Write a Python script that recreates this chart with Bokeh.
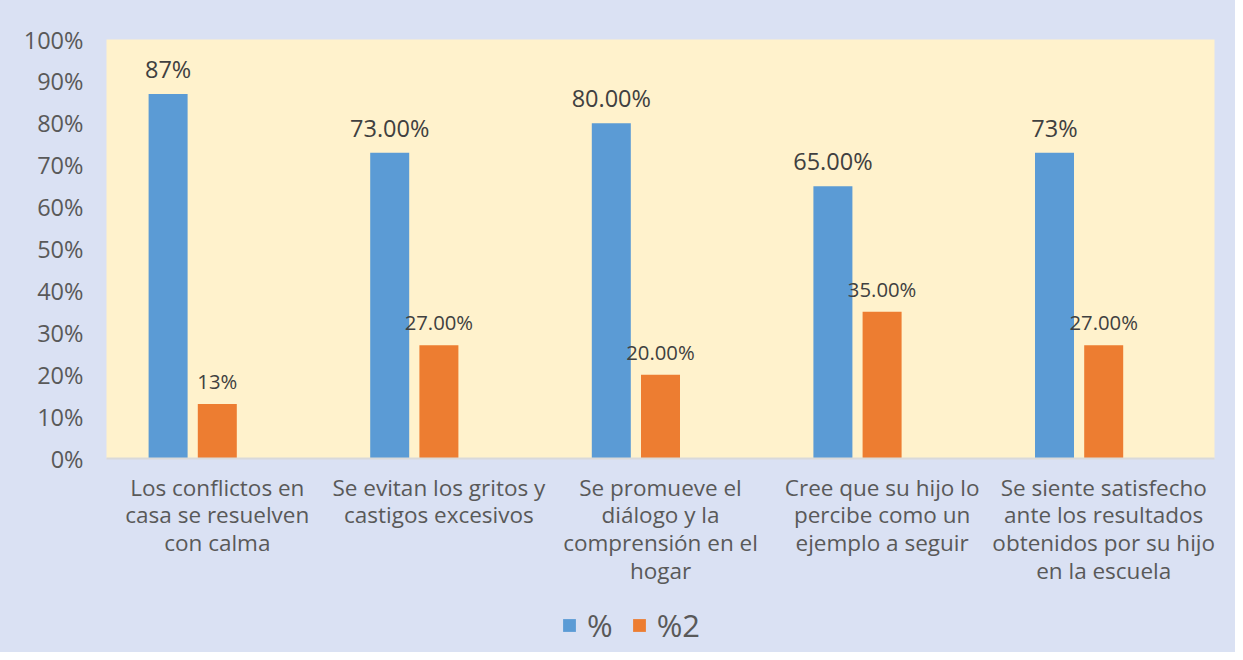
from bokeh.plotting import figure
from bokeh.layouts import column
from bokeh.models import (ColumnDataSource, FactorRange, Range1d, NumeralTickFormatter,
                          FixedTicker, LabelSet, Legend, LegendItem)
from bokeh.transform import dodge
from bokeh.core.properties import value
from bokeh.embed import file_html
from bokeh.resources import INLINE

categories = [
    "Los conflictos en\ncasa se resuelven\ncon calma",
    "Se evitan los gritos y\ncastigos excesivos",
    "Se promueve el\ndiálogo y la\ncomprensión en el\nhogar",
    "Cree que su hijo lo\npercibe como un\nejemplo a seguir",
    "Se siente satisfecho\nante los resultados\nobtenidos por su hijo\nen la escuela",
]
serie_1 = [0.87, 0.73, 0.80, 0.65, 0.73]
serie_2 = [0.13, 0.27, 0.20, 0.35, 0.27]
labels_1 = ["87%", "73.00%", "80.00%", "65.00%", "73%"]
labels_2 = ["13%", "27.00%", "20.00%", "35.00%", "27.00%"]
series_names = ["%", "%2"]
y_ticks = [0.0, 0.1, 0.2, 0.3, 0.4, 0.5, 0.6, 0.7, 0.8, 0.9, 1.0]

FONT = "Open Sans"
BLUE = "#5B9BD5"
ORANGE = "#ED7D31"
BG = "#DAE1F3"

src = ColumnDataSource(dict(cat=categories, s1=serie_1, s2=serie_2, l1=labels_1, l2=labels_2))

p = figure(x_range=FactorRange(*categories), y_range=Range1d(0, 1),
           width=1235, height=600, output_backend="svg", toolbar_location=None,
           min_border_left=106, min_border_right=21, min_border_top=39, min_border_bottom=142)
p.background_fill_color = "#FFF2CC"
p.border_fill_color = BG
p.outline_line_color = None
p.xgrid.grid_line_color = None
p.ygrid.grid_line_color = None

W = 0.176
r1 = p.vbar(x=dodge("cat", -0.222, range=p.x_range), top="s1", width=W, source=src,
            fill_color=BLUE, line_color=None)
r2 = p.vbar(x=dodge("cat", 0.0, range=p.x_range), top="s2", width=W, source=src,
            fill_color=ORANGE, line_color=None)

lab1 = LabelSet(x=dodge("cat", -0.222, range=p.x_range), y="s1", text="l1", source=src,
                y_offset=16, text_align="center", text_baseline="alphabetic",
                text_font=value(FONT), text_font_size="23.5px", text_color="#404040")
lab2 = LabelSet(x=dodge("cat", 0.0, range=p.x_range), y="s2", text="l2", source=src,
                y_offset=15, text_align="center", text_baseline="alphabetic",
                text_font=value(FONT), text_font_size="20.3px", text_color="#404040")
p.add_layout(lab1)
p.add_layout(lab2)

p.yaxis.ticker = FixedTicker(ticks=y_ticks)
p.yaxis.formatter = NumeralTickFormatter(format="0%")
p.yaxis.axis_line_color = None
p.yaxis.major_tick_line_color = None
p.yaxis.minor_tick_line_color = None
p.yaxis.major_tick_out = 0
p.yaxis.major_label_standoff = 23
p.yaxis.major_label_text_font = FONT
p.yaxis.major_label_text_font_size = "23.5px"
p.yaxis.major_label_text_color = "#595959"

p.xaxis.axis_line_color = "#D9D9D9"
p.xaxis.axis_line_width = 2
p.xaxis.major_tick_line_color = None
p.xaxis.minor_tick_line_color = None
p.xaxis.major_tick_out = 0
p.xaxis.major_label_standoff = 13
p.xaxis.major_label_text_font = FONT
p.xaxis.major_label_text_font_size = "22.5px"
p.xaxis.major_label_text_color = "#595959"
p.xaxis.major_label_text_line_height = 0.9

# legend strip below the chart: same series drawn on a y-range where the bars fall out of view
q = figure(width=1235, height=52, output_backend="svg", toolbar_location=None,
           x_axis_type=None, y_axis_type=None, x_range=p.x_range, y_range=Range1d(2, 3),
           min_border_left=0, min_border_right=0, min_border_top=0, min_border_bottom=0)
q.background_fill_color = None
q.border_fill_color = None
q.outline_line_color = None
q.grid.grid_line_color = None
k1 = q.vbar(x=dodge("cat", -0.222, range=p.x_range), top="s1", width=W, source=src,
            fill_color=BLUE, line_color=None)
k2 = q.vbar(x=dodge("cat", 0.0, range=p.x_range), top="s2", width=W, source=src,
            fill_color=ORANGE, line_color=None)
legend = Legend(items=[LegendItem(label=series_names[0], renderers=[k1]),
                       LegendItem(label=series_names[1], renderers=[k2])],
                orientation="horizontal", location=(455, 6),
                glyph_width=16, glyph_height=16, label_standoff=10, spacing=18,
                padding=0, margin=0, border_line_alpha=0, background_fill_alpha=0,
                label_text_font=FONT, label_text_font_size="31px", label_text_color="#595959")
q.add_layout(legend)

layout = column(p, q, spacing=0, styles={"background-color": BG})
open("out.html", "w").write(file_html(layout, INLINE))
